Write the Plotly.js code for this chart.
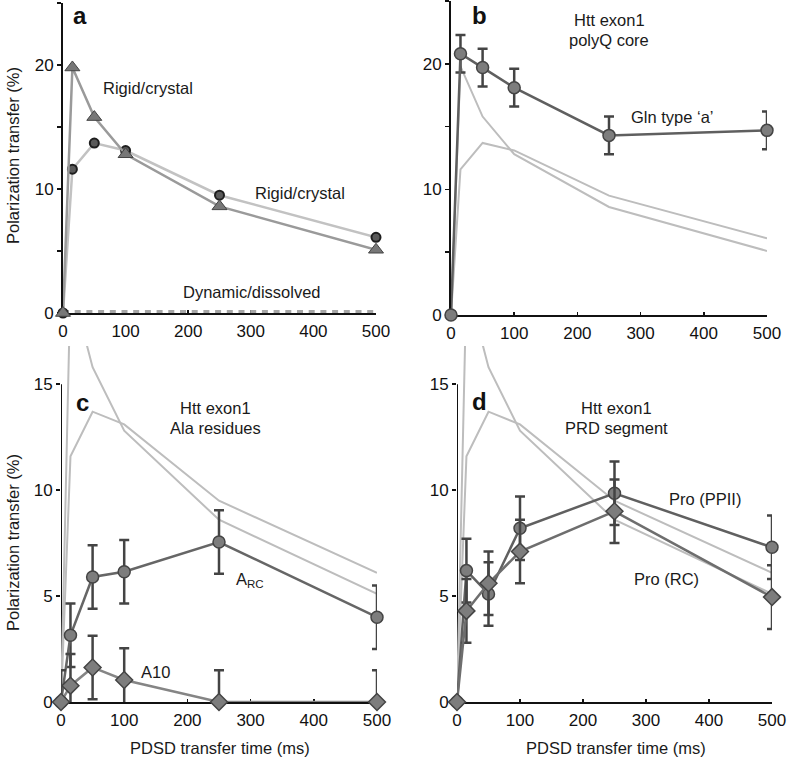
<!DOCTYPE html>
<html>
<head>
<meta charset="utf-8">
<script src="https://cdn.plot.ly/plotly-3.0.1.min.js"></script>
<style>
  html, body { margin: 0; padding: 0; background: #fff; }
  #chart { width: 788px; height: 769px; }
</style>
</head>
<body>
<div id="chart"></div>
<script>
// mixing times (ms)
var times = [0, 15, 50, 100, 250, 500];

// panel a: reference compounds
var rigidCircle = [0, 11.6, 13.7, 13.1, 9.5, 6.1];
var rigidTriangle = [0, 19.8, 15.8, 12.8, 8.6, 5.1];
var dynamicVals = [0, 0, 0, 0, 0, 0];

// panel b: polyQ core
var glnA = [0, 20.8, 19.7, 18.1, 14.3, 14.7];
var glnAErr = [0, 1.5, 1.5, 1.5, 1.5, 1.5];

// panel c: Ala
var alaRC = [0, 3.15, 5.9, 6.15, 7.55, 4.0];
var alaRCErr = [0, 1.5, 1.5, 1.5, 1.5, 1.5];
var ala10 = [0, 0.77, 1.63, 1.04, 0, 0];
var ala10Err = [1.5, 1.5, 1.5, 1.5, 1.5, 1.5];

// panel d: PRD
var proPPII = [0, 6.2, 5.1, 8.2, 9.85, 7.3];
var proPPIIErr = [0, 1.5, 1.5, 1.5, 1.5, 1.5];
var proRC = [0, 4.3, 5.6, 7.1, 9.0, 4.95];
var proRCErr = [0, 1.5, 1.5, 1.5, 1.5, 1.5];

var W = 788, H = 769;
var FONT = 'Liberation Sans, Arial, Helvetica, sans-serif';
var TICK = 17;
var TXT = 16.5;

// pixel -> paper
function px(x, y) {
	return { x: x / W, y: 1 - y / H };
}

function lightLines(xa, ya) {
	return [
		{ x: times, y: rigidCircle, xaxis: xa, yaxis: ya, mode: 'lines',
			line: { color: '#bdbdbd', width: 2 }, hoverinfo: 'skip' },
		{ x: times, y: rigidTriangle, xaxis: xa, yaxis: ya, mode: 'lines',
			line: { color: '#bdbdbd', width: 2 }, hoverinfo: 'skip' }
	];
}

function errSeries(xa, ya, y, err, symbol, lineColor) {
	return {
		x: times, y: y, xaxis: xa, yaxis: ya, mode: 'lines+markers',
		cliponaxis: false,
		line: { color: lineColor, width: 2.5 },
		marker: { symbol: symbol, size: symbol == 'diamond' ? 13 : 12, color: '#7d7d7d',
			line: { color: '#444', width: 1.5 } },
		error_y: { type: 'data', array: err, visible: true, color: '#444', thickness: 2.5, width: 5 }
	};
}

var data = [];

// a
data.push({ x: times, y: dynamicVals, xaxis: 'x', yaxis: 'y', mode: 'lines', cliponaxis: false,
	line: { color: '#a6a6a6', width: 6, dash: '6px,5.7px' } });
data.push({ x: times, y: rigidCircle, xaxis: 'x', yaxis: 'y', mode: 'lines+markers', cliponaxis: false,
	line: { color: '#c2c2c2', width: 2.5 },
	marker: { symbol: 'circle', size: 9, color: '#5a5a5a', line: { color: '#1e1e1e', width: 2 } } });
data.push({ x: times, y: rigidTriangle, xaxis: 'x', yaxis: 'y', mode: 'lines+markers', cliponaxis: false,
	line: { color: '#9a9a9a', width: 2.5 },
	marker: { symbol: 'triangle-up', size: 13, color: '#777', line: { color: '#444', width: 1 } } });

// b
data = data.concat(lightLines('x2', 'y2'));
data.push(errSeries('x2', 'y2', glnA, glnAErr, 'circle', '#5f5f5f'));

// c
data = data.concat(lightLines('x3', 'y3'));
data.push(errSeries('x3', 'y3', alaRC, alaRCErr, 'circle', '#666'));
data.push(errSeries('x3', 'y3', ala10, ala10Err, 'diamond', '#858585'));

// d
data = data.concat(lightLines('x4', 'y4'));
data.push(errSeries('x4', 'y4', proPPII, proPPIIErr, 'circle', '#606060'));
data.push(errSeries('x4', 'y4', proRC, proRCErr, 'diamond', '#6e6e6e'));

function xAx(l, r, anchor) {
	return {
		domain: [l / W, r / W], anchor: anchor, range: [0, 500],
		showline: true, linewidth: 2, linecolor: '#111',
		ticks: 'inside', ticklen: 3, tickwidth: 1.5, tickcolor: '#111',
		tick0: 0, dtick: 100, showgrid: false, zeroline: false, ticklabelstandoff: 2,
		tickfont: { size: TICK, color: '#111' }, layer: 'below traces'
	};
}

function yTop(bottom, top, anchor) {
	return {
		domain: [1 - bottom / H, 1 - top / H], anchor: anchor, range: [0, 25],
		showline: true, linewidth: 2, linecolor: '#111',
		ticks: 'outside', ticklen: 4, tickwidth: 1.5, tickcolor: '#111',
		tick0: 0, dtick: 10, showgrid: false, zeroline: false,
		minor: { dtick: 5, ticks: 'outside', ticklen: 4, tickwidth: 1.5, tickcolor: '#111' },
		tickfont: { size: TICK, color: '#111' }, layer: 'below traces'
	};
}

function yBottom(anchor) {
	// y=0 at 702px, y=15 at 384px; range reaches above 15 so the grey lines run past the axis end
	return {
		domain: [1 - 702 / H, 1 - 346 / H], anchor: anchor, range: [0, 16.8],
		showline: false, tickvals: [0, 5, 10, 15],
		ticks: 'outside', ticklen: 4, tickwidth: 1.5, tickcolor: '#111',
		showgrid: false, zeroline: false,
		tickfont: { size: TICK, color: '#111' }, layer: 'below traces'
	};
}

function label(x, y, text, extra) {
	var p = px(x, y);
	var a = { xref: 'paper', yref: 'paper', x: p.x, y: p.y, text: text, showarrow: false,
		xanchor: 'center', yanchor: 'middle', font: { size: TXT, color: '#1a1a1a', family: FONT } };
	for (var k in extra) a[k] = extra[k];
	return a;
}

var bold = { font: { size: 24, color: '#111', family: FONT, weight: 'bold' } };
var sideTitle = { textangle: -90, font: { size: 16.5, color: '#1a1a1a', family: FONT } };

var annotations = [
	label(80, 15, '<b>a</b>', bold),
	label(148, 88, 'Rigid/crystal'),
	label(300, 193, 'Rigid/crystal'),
	label(252, 292, 'Dynamic/dissolved'),
	label(479, 15, '<b>b</b>', bold),
	label(609, 20, 'Htt exon1'),
	label(609, 40, 'polyQ core'),
	label(672, 117, 'Gln type \u2018a\u2019'),
	label(82, 402, '<b>c</b>', bold),
	label(215, 408, 'Htt exon1'),
	label(215, 428, 'Ala residues'),
	label(250, 580, 'A<sub>RC</sub>'),
	label(155, 672, 'A10'),
	label(479, 401, '<b>d</b>', bold),
	label(616, 408, 'Htt exon1'),
	label(616, 428, 'PRD segment'),
	label(705, 499, 'Pro (PPII)'),
	label(666, 579, 'Pro (RC)'),
	label(13, 156, 'Polarization transfer (%)', sideTitle),
	label(13, 543, 'Polarization transfer (%)', sideTitle),
	label(220, 748, 'PDSD transfer time (ms)'),
	label(616, 748, 'PDSD transfer time (ms)')
];

var shapes = [
	{ type: 'line', xref: 'x3', yref: 'y3', x0: 0, x1: 0, y0: 0, y1: 15, layer: 'below',
		line: { color: '#111', width: 2 } },
	{ type: 'line', xref: 'x4', yref: 'y4', x0: 0, x1: 0, y0: 0, y1: 15, layer: 'below',
		line: { color: '#111', width: 2 } }
];

var layout = {
	width: W, height: H,
	margin: { l: 0, r: 0, t: 0, b: 0 },
	paper_bgcolor: '#fff', plot_bgcolor: 'rgba(0,0,0,0)',
	showlegend: false,
	font: { family: FONT, size: 15, color: '#111' },
	xaxis: xAx(63, 376, 'y'),
	yaxis: yTop(313, 3, 'x'),
	xaxis2: xAx(451, 767, 'y2'),
	yaxis2: yTop(315, 1, 'x2'),
	xaxis3: xAx(61, 377, 'y3'),
	yaxis3: yBottom('x3'),
	xaxis4: xAx(457, 772, 'y4'),
	yaxis4: yBottom('x4'),
	annotations: annotations,
	shapes: shapes
};

Plotly.newPlot('chart', data, layout, { staticPlot: true, displayModeBar: false });
</script>
</body>
</html>
